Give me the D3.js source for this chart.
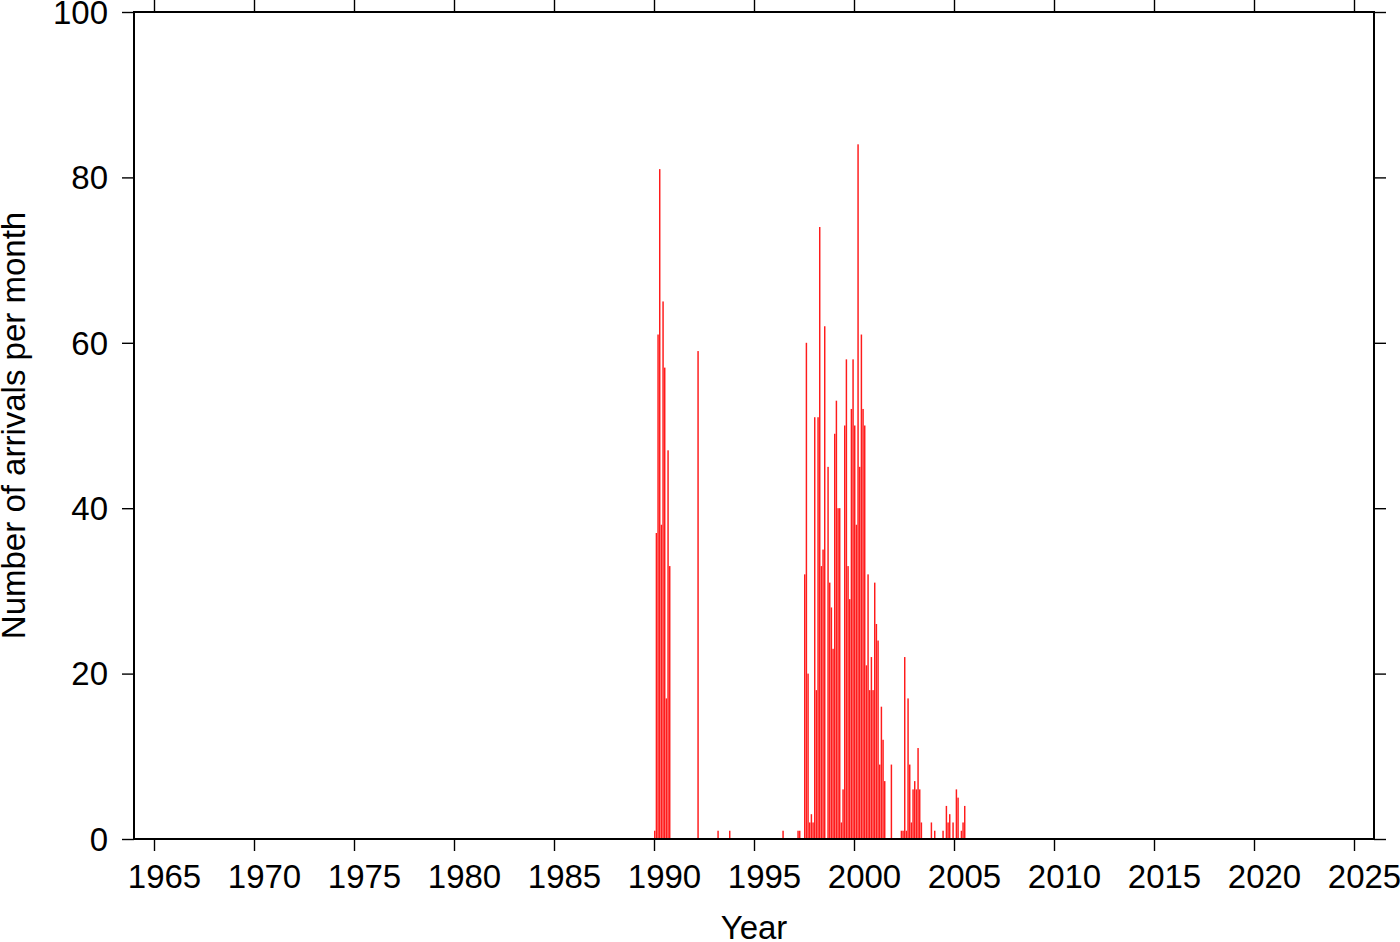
<!DOCTYPE html>
<html>
<head>
<meta charset="utf-8">
<script src="https://cdn.jsdelivr.net/npm/d3@7/dist/d3.min.js"></script>
<style>
  html, body { margin: 0; padding: 0; background: #fff; }
  svg { display: block; }
  text { font-family: "Liberation Sans", Arial, Helvetica, sans-serif; fill: #000; }
</style>
</head>
<body>
<svg id="chart" width="1400" height="942"></svg>
<script>
// Monthly bins (YYYY-MM) with non-zero arrival counts
const months = [
  "1990-01","1990-02","1990-03","1990-04","1990-05","1990-06","1990-07","1990-08","1990-09","1990-10",
  "1992-03","1993-03","1993-10","1996-06","1997-03","1997-04",
  "1997-07","1997-08","1997-09","1997-10","1997-11","1997-12",
  "1998-01","1998-02","1998-03","1998-04","1998-05","1998-06","1998-07","1998-09","1998-10","1998-11","1998-12",
  "1999-01","1999-02","1999-03","1999-04","1999-05","1999-06","1999-07","1999-08","1999-09","1999-10","1999-11","1999-12",
  "2000-01","2000-02","2000-03","2000-04","2000-05","2000-06","2000-07","2000-08","2000-09","2000-10","2000-11","2000-12",
  "2001-01","2001-02","2001-03","2001-04","2001-05","2001-06","2001-07","2001-11",
  "2002-05","2002-06","2002-07","2002-08","2002-09","2002-10","2002-11","2002-12",
  "2003-01","2003-02","2003-03","2003-04","2003-05","2003-11",
  "2004-01","2004-06","2004-08","2004-09","2004-10","2004-12",
  "2005-02","2005-03","2005-05","2005-06","2005-07"
];
const counts = [
  1,37,61,81,38,65,57,17,47,33,
  59,1,1,1,1,1,
  32,60,20,2,3,2,
  51,18,51,74,33,35,62,45,31,28,23,
  49,53,40,40,2,6,50,58,33,29,52,58,
  50,38,84,45,61,52,50,21,32,18,22,18,
  31,26,24,9,16,12,7,9,
  1,1,22,1,17,9,2,6,
  7,6,11,6,2,2,
  1,1,4,2,3,2,
  6,5,1,2,4
];
const xTicks = [1965,1970,1975,1980,1985,1990,1995,2000,2005,2010,2015,2020,2025];
const yTicks = [0,20,40,60,80,100];
const xDomain = [1964, 2026];
const yDomain = [0, 100];
const xTitle = "Year";
const yTitle = "Number of arrivals per month";

const svg = d3.select("#chart");
const L = 134, R = 1374, T = 12, B = 839;
const FS = 33;

const x = d3.scaleLinear().domain(xDomain).range([L, R]);
const y = d3.scaleLinear().domain(yDomain).range([B, T]);

const data = months.map((m, i) => {
  const [yy, mm] = m.split("-").map(Number);
  const t0 = yy + (mm - 1) / 12;
  return { t0, t1: t0 + 1 / 12, v: counts[i] };
});

// bars
svg.append("g").selectAll("rect").data(data).enter().append("rect")
  .attr("x", d => x(d.t0))
  .attr("width", d => Math.max(0.8, x(d.t1) - x(d.t0) - 0.2))
  .attr("y", d => y(d.v))
  .attr("height", d => y(0) - y(d.v))
  .attr("fill", "#ff1c1c");

// axes
const tickLen = 12;
const gBottom = svg.append("g").attr("transform", `translate(0,${B})`)
  .call(d3.axisBottom(x).tickValues(xTicks).tickFormat(d3.format("d")).tickSize(tickLen).tickPadding(14));
const gTop = svg.append("g").attr("transform", `translate(0,${T})`)
  .call(d3.axisTop(x).tickValues(xTicks).tickFormat("").tickSize(tickLen));
const gLeft = svg.append("g").attr("transform", `translate(${L},0)`)
  .call(d3.axisLeft(y).tickValues(yTicks).tickSize(tickLen).tickPadding(14));
const gRight = svg.append("g").attr("transform", `translate(${R},0)`)
  .call(d3.axisRight(y).tickValues(yTicks).tickFormat("").tickSize(tickLen));

[gBottom, gTop, gLeft, gRight].forEach(g => {
  g.select(".domain").remove();
  g.selectAll(".tick line").attr("stroke", "#000").attr("stroke-width", 1.4);
  g.selectAll(".tick text").attr("font-size", FS).attr("font-family", "'Liberation Sans', Arial, sans-serif").attr("fill", "#000");
});
gBottom.selectAll(".tick text").attr("dy", "0.71em").attr("dx", 10);
gLeft.selectAll(".tick text").attr("dy", "0.34em");

// frame
svg.append("rect")
  .attr("x", L).attr("y", T).attr("width", R - L).attr("height", B - T)
  .attr("fill", "none").attr("stroke", "#000").attr("stroke-width", 2);

// titles
svg.append("text")
  .attr("x", (L + R) / 2).attr("y", 939)
  .attr("text-anchor", "middle").attr("font-size", FS)
  .text(xTitle);
svg.append("text")
  .attr("transform", `translate(25,${(T + B) / 2}) rotate(-90)`)
  .attr("text-anchor", "middle").attr("font-size", FS)
  .text(yTitle);
</script>
</body>
</html>
